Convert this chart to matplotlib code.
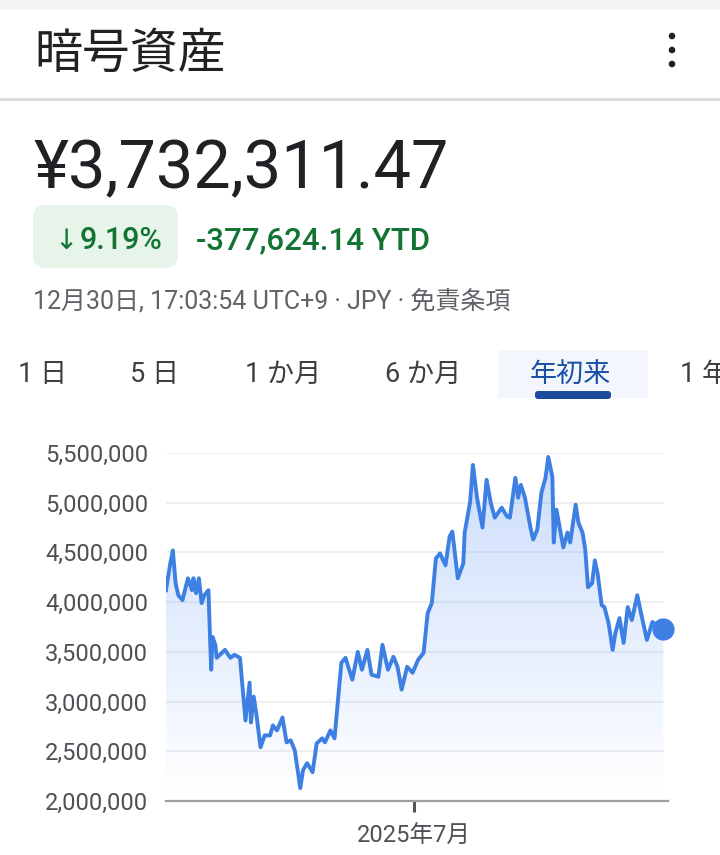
import numpy as np
import pandas as pd
import matplotlib
matplotlib.use("Agg")
import matplotlib.pyplot as plt
import matplotlib.dates as mdates
from matplotlib.patches import FancyBboxPatch, Rectangle, Circle

# ---- data (values in millions of yen) ----
dates = ["01-01", "01-04", "01-06", "01-08", "01-10", "01-13", "01-17", "01-20",
         "01-21", "01-23", "01-25", "01-27", "01-29", "02-01", "02-02", "02-03",
         "02-04", "02-06", "02-07", "02-13", "02-17", "02-20", "02-24", "02-28",
         "03-03", "03-04", "03-06", "03-08", "03-11", "03-14", "03-18", "03-20",
         "03-23", "03-27", "03-30", "04-02", "04-05", "04-09", "04-11", "04-14",
         "04-18", "04-21", "04-25", "04-27", "05-01", "05-04", "05-09", "05-12",
         "05-17", "05-21", "05-24", "05-28", "05-31", "06-05", "06-08", "06-12",
         "06-16", "06-19", "06-22", "06-26", "06-30", "07-04", "07-08", "07-11",
         "07-14", "07-17", "07-20", "07-24", "07-27", "07-29", "08-02", "08-06",
         "08-07", "08-11", "08-13", "08-16", "08-20", "08-23", "08-26", "08-29",
         "09-03", "09-07", "09-09", "09-13", "09-15", "09-17", "09-20", "09-24",
         "09-26", "09-29", "10-02", "10-05", "10-07", "10-10", "10-11", "10-13",
         "10-16", "10-18", "10-21", "10-23", "10-27", "10-29", "11-01", "11-03",
         "11-05", "11-08", "11-10", "11-12", "11-15", "11-17", "11-20", "11-23",
         "11-25", "11-28", "12-01", "12-04", "12-07", "12-11", "12-14", "12-18",
         "12-22", "12-25", "12-30"]
values_m = [4.12, 4.38, 4.52, 4.19, 4.07, 4.02, 4.24, 4.12,
            4.24, 4.09, 4.24, 3.99, 4.07, 4.12, 3.70, 3.32,
            3.65, 3.57, 3.44, 3.52, 3.44, 3.47, 3.44, 2.81,
            3.19, 2.79, 3.05, 2.87, 2.54, 2.66, 2.66, 2.76,
            2.71, 2.84, 2.59, 2.61, 2.51, 2.13, 2.31, 2.38,
            2.29, 2.58, 2.63, 2.59, 2.71, 2.63, 3.39, 3.44,
            3.22, 3.50, 3.32, 3.52, 3.27, 3.25, 3.57, 3.32,
            3.45, 3.35, 3.12, 3.35, 3.29, 3.42, 3.49, 3.89,
            3.99, 4.44, 4.49, 4.37, 4.66, 4.71, 4.24, 4.39,
            4.70, 5.01, 5.38, 5.05, 4.75, 5.23, 5.00, 4.85,
            4.95, 4.86, 4.85, 5.25, 5.05, 5.18, 5.05, 4.75,
            4.63, 4.73, 5.10, 5.25, 5.46, 5.26, 4.60, 4.93,
            4.70, 4.55, 4.70, 4.60, 4.98, 4.80, 4.70, 4.53,
            4.15, 4.19, 4.42, 4.29, 3.97, 3.95, 3.79, 3.52,
            3.69, 3.84, 3.59, 3.95, 3.82, 4.07, 3.87, 3.62,
            3.80, 3.77, 3.732311]

y_ticks = [2000000, 2500000, 3000000, 3500000, 4000000, 4500000, 5000000, 5500000]
x_tick_date = "2025-07-01"
x_tick_label = "2025年7月"

title = "暗号資産"
price = "¥3,732,311.47"
change_pct = "9.19%"
change_abs = "-377,624.14 YTD"
info_line = "12月30日, 17:03:54 UTC+9 · JPY · 免責条項"
tabs = ["1 日", "5 日", "1 か月", "6 か月", "年初来", "1 年"]
tab_x = [18, 130, 245, 385, 530, 680]
selected_tab = 4

JP = ["Noto Sans CJK JP", "DejaVu Sans"]
NUM = ["Roboto", "Noto Sans CJK JP", "DejaVu Sans"]
BLUE = "#3d7fe3"
GREEN = "#137333"

d = pd.to_datetime(["2025-" + s for s in dates])
v = np.array(values_m) * 1e6

fig = plt.figure(figsize=(7.2, 8.55), dpi=100)

# pixel-coordinate background axes for the page bits
bg = fig.add_axes([0, 0, 1, 1])
bg.set_xlim(0, 720)
bg.set_ylim(855, 0)
bg.axis("off")

bg.add_patch(Rectangle((0, 0), 720, 10, color="#f5f5f5", lw=0))
bg.add_patch(Rectangle((0, 98.5), 720, 2.5, color="#dadce0", lw=0))
bg.text(34, 68, title, fontsize=34.5, family=JP, color="#202124", va="baseline")
for yy in [36, 50, 64]:
    bg.add_patch(Circle((672, yy), 3.3, color="#202124", lw=0))

bg.text(33, 188, price, fontsize=48, family=["Roboto"], color="#202124", va="baseline")

bg.add_patch(FancyBboxPatch((33, 205), 145, 63, boxstyle="round,pad=0,rounding_size=13",
                            color="#e6f4ea", lw=0))
bg.text(54, 249, "↓", fontsize=20, family=["DejaVu Sans"], color=GREEN, va="baseline")
bg.text(80, 249, change_pct, fontsize=22, family=NUM, color=GREEN, va="baseline",
        weight="medium")
bg.text(196, 249, change_abs, fontsize=22.5, family=NUM, color=GREEN, va="baseline",
        weight="medium")

bg.text(33, 308, info_line, fontsize=18, family=NUM, color="#5f6368", va="baseline")

# tabs
bg.add_patch(Rectangle((498, 350), 150, 48, color="#f3f7fd", lw=0))
bg.add_patch(FancyBboxPatch((535, 391), 76, 8, boxstyle="round,pad=0,rounding_size=3",
                            color="#1a4b9c", lw=0))
for i, t in enumerate(tabs):
    c = "#174ea6" if i == selected_tab else "#3c4043"
    bg.text(tab_x[i], 382, t, fontsize=19.5, family=NUM, color=c, va="baseline")

# ---- chart ----
x0 = pd.Timestamp("2025-01-01")
x1 = x0 + pd.Timedelta(days=366.4)
ax = fig.add_axes([166 / 720, (855 - 801) / 855, (668 - 166) / 720, (801 - 453) / 855])
ax.set_facecolor("none")
ax.set_xlim(x0, x1)
ax.set_ylim(2000000, 5500000)

for yt in y_ticks[1:]:
    ax.plot([x0, d[-1]], [yt, yt], color="#eeeff1", lw=1.5, zorder=0)

# gradient fill under the line
grad = np.zeros((256, 1, 4))
grad[:, 0, 0] = 0.26
grad[:, 0, 1] = 0.52
grad[:, 0, 2] = 0.96
grad[:, 0, 3] = np.linspace(0.0, 0.28, 256)
poly = ax.fill_between(d, v, 2000000, color="none", lw=0)
im = ax.imshow(grad, extent=[mdates.date2num(x0), mdates.date2num(d[-1]), 2000000, 5500000],
               aspect="auto", origin="lower", zorder=1)
im.set_clip_path(poly.get_paths()[0], ax.transData)

ax.plot(d, v, color=BLUE, lw=2.8, zorder=3, solid_joinstyle="round")
ax.plot([d[-1]], [v[-1]], "o", color=BLUE, ms=15, zorder=4, clip_on=False)

for s in ["top", "right", "left"]:
    ax.spines[s].set_visible(False)
ax.spines["bottom"].set_color("#9e9e9e")
ax.spines["bottom"].set_linewidth(1.6)

ax.set_yticks(y_ticks)
ax.set_yticklabels([f"{y:,}" for y in y_ticks], family=NUM, fontsize=17, color="#4d5156")
ax.tick_params(axis="y", length=0, pad=13)
ax.set_xticks([pd.Timestamp(x_tick_date)])
ax.set_xticklabels([x_tick_label], family=NUM, fontsize=17, color="#4d5156")
ax.tick_params(axis="x", length=8, width=2.2, color="#555555", pad=9)

fig.savefig("out.png", dpi=100)
